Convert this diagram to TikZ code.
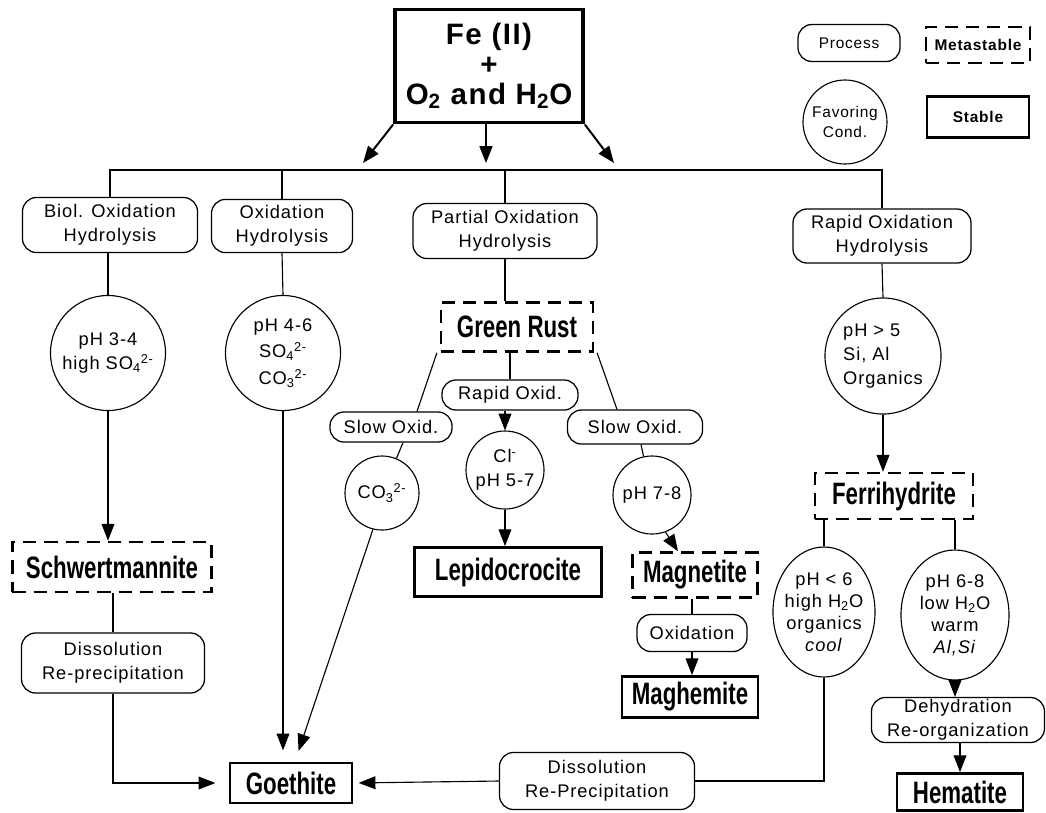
\documentclass[tikz,border=0pt]{standalone}
\usepackage{fontspec}
\setmainfont{Liberation Sans}[LetterSpace=5]
\newfontfamily\mineralfont{Liberation Sans}[FakeStretch=0.72]
\usetikzlibrary{shapes.geometric,arrows.meta,positioning,calc}
\tikzset{
  process/.style={draw,rounded corners=3.5mm,line width=0.9pt,
    align=center,inner sep=1pt,font=\fontsize{13}{17}\selectfont},
  cond/.style={draw,circle,line width=0.8pt,align=center,
    inner sep=0pt,font=\fontsize{13}{17}\selectfont},
  condellipse/.style={draw,ellipse,line width=0.8pt,align=center,
    inner xsep=-1.5mm,inner ysep=0.5mm,font=\fontsize{13}{15.6}\selectfont},
  metastable/.style={draw,dash pattern=on 3.3mm off 2mm,line width=1.8pt,
    inner sep=1pt,font=\mineralfont\bfseries\fontsize{22}{24}\selectfont},
  stable/.style={draw,line width=2pt,inner sep=1pt,
    font=\mineralfont\bfseries\fontsize{22}{24}\selectfont},
  flow/.style={-{Triangle[length=4.2mm,width=3.2mm]},line width=0.8pt},
  link/.style={line width=0.8pt}
}
\begin{document}
\begin{tikzpicture}[x=0.025cm,y=-0.025cm]
  \useasboundingbox (0,0) rectangle (1046,812);
  \node[stable,line width=2.6pt,minimum width=4.7cm,minimum height=2.83cm,
    align=center,font=\bfseries\fontsize{21}{21}\selectfont] (source) at (489,66)
    {Fe (II)\\+\\O\textsubscript{2} and H\textsubscript{2}O};
  \node[process,minimum width=2.55cm,minimum height=0.925cm,
    font=\fontsize{11}{13}\selectfont] (keyprocess) at (849,43) {Process};
  \node[metastable,line width=1.6pt,minimum width=2.6cm,minimum height=0.9cm,
    font=\bfseries\fontsize{11}{13}\selectfont] (keymeta) at (978,45) {Metastable};
  \node[cond,minimum size=2.1cm,font=\fontsize{11}{14}\selectfont] (keycond) at (845,122) {Favoring\\Cond.};
  \node[stable,minimum width=2.55cm,minimum height=1.025cm,
    font=\bfseries\fontsize{11}{13}\selectfont] (keystable) at (978,117) {Stable};
  \node[process,minimum width=4.375cm,minimum height=1.375cm] (biol) at (110,225) {Biol. Oxidation\\Hydrolysis};
  \node[process,minimum width=3.525cm,minimum height=1.33cm] (oxhyd) at (282,226) {Oxidation\\Hydrolysis};
  \node[process,minimum width=4.6cm,minimum height=1.375cm] (partial) at (505,231) {Partial Oxidation\\Hydrolysis};
  \node[process,minimum width=4.45cm,minimum height=1.35cm] (rapid) at (882,236) {Rapid Oxidation\\Hydrolysis};
  \node[cond,minimum size=2.875cm] (phbiol) at (108,353) {pH 3-4\\high SO\textsubscript{4}\textsuperscript{2-}};
  \node[cond,minimum size=2.875cm,font=\fontsize{13}{19}\selectfont] (phox) at (283,353)
    {pH 4-6\\SO\textsubscript{4}\textsuperscript{2-}\\CO\textsubscript{3}\textsuperscript{2-}};
  \node[cond,minimum size=2.9cm,align=left] (phrapid) at (883,356) {pH > 5\\Si, Al\\Organics};
  \node[metastable,minimum width=3.8cm,minimum height=1.225cm] (greenrust) at (517,327) {Green Rust};
  \node[process,minimum width=3.05cm,minimum height=0.75cm] (slowco) at (391,427) {Slow Oxid.};
  \node[process,minimum width=3.4cm,minimum height=0.75cm] (rapidox) at (510,395) {Rapid Oxid.};
  \node[process,minimum width=3.375cm,minimum height=0.85cm] (slowmag) at (635,427) {Slow Oxid.};
  \node[cond,minimum size=1.85cm] (carb) at (382,493) {CO\textsubscript{3}\textsuperscript{2-}};
  \node[cond,minimum size=1.95cm] (chlor) at (505,470) {Cl\textsuperscript{-}\\pH 5-7};
  \node[cond,minimum size=1.95cm] (phmag) at (652,495) {pH 7-8};
  \node[metastable,minimum width=4.975cm,minimum height=1.25cm] (schwert) at (112,567) {Schwertmannite};
  \node[process,minimum width=4.575cm,minimum height=1.5cm] (dissolschw) at (113,663) {Dissolution\\Re-precipitation};
  \node[stable,minimum width=3.05cm,minimum height=1cm] (goethite) at (291,783) {Goethite};
  \node[stable,minimum width=4.675cm,minimum height=1.225cm] (lepido) at (508,572) {Lepidocrocite};
  \node[metastable,minimum width=3.125cm,minimum height=1.125cm] (magnetite) at (695,575) {Magnetite};
  \node[process,minimum width=2.75cm,minimum height=0.925cm] (oxmag) at (692,633) {Oxidation};
  \node[stable,minimum width=3.4cm,minimum height=1.025cm] (maghemite) at (690,697) {Maghemite};
  \node[process,minimum width=4.875cm,minimum height=1.425cm] (dissolferri) at (597,781) {Dissolution\\Re-Precipitation};
  \node[metastable,minimum width=3.95cm,minimum height=1.15cm] (ferri) at (894,496) {Ferrihydrite};
  \node[condellipse,minimum width=2.55cm,minimum height=3.25cm] (phcool) at (824,612)
    {pH < 6\\high H\textsubscript{2}O\\organics\\\textit{cool}};
  \node[condellipse,minimum width=2.7cm,minimum height=3.25cm] (phwarm) at (955,615)
    {pH 6-8\\low H\textsubscript{2}O\\warm\\\textit{Al,Si}};
  \node[process,minimum width=4.325cm,minimum height=1.125cm] (dehyd) at (958,720) {Dehydration\\Re-organization};
  \node[stable,minimum width=3.15cm,minimum height=0.925cm] (hematite) at (960,792) {Hematite};
  \coordinate (bus) at (500,170);
  \coordinate (tipleft) at (363,163);
  \coordinate (tipmid) at (486,163);
  \coordinate (tipright) at (614,163);
  \draw[flow,line width=1.4pt] (source.south west) -- (tipleft);
  \draw[flow,line width=1.4pt] (source.south -| tipmid) -- (tipmid);
  \draw[flow,line width=1.4pt] (source.south east) -- (tipright);
  \draw[link] (biol.north) -- (biol.north |- bus) -- (rapid.north |- bus) -- (rapid.north);
  \draw[link] (oxhyd.north |- bus) -- (oxhyd.north);
  \draw[link] (partial.north |- bus) -- (partial.north);
  \draw[link] (biol.south -| phbiol) -- (phbiol.north);
  \draw[link] (oxhyd.south) -- (phox.north);
  \draw[flow] (phbiol.south) -- (phbiol.south |- schwert.north);
  \draw[link] (schwert.south -| dissolschw) -- (dissolschw.north);
  \draw[flow,shorten >=0.33cm] (dissolschw.south) |- (goethite.west);
  \draw[flow,shorten >=0.28cm] (phox.south) -- (phox.south |- goethite.north);
  \draw[link] (partial.south) -- (partial.south |- greenrust.north);
  \draw[link] ([xshift=-0.07cm]greenrust.south west) -- ([xshift=0.65cm]slowco.north);
  \draw[link] (greenrust.south -| rapidox) -- (rapidox.north);
  \draw[link] ([xshift=0.07cm]greenrust.south east) -- ([xshift=-0.45cm]slowmag.north);
  \draw[link] ([xshift=0.3cm]slowco.south) -- (carb);
  \draw[flow] (rapidox.south -| chlor) -- (chlor.north);
  \draw[link] ([xshift=0.15cm]slowmag.south) -- (phmag);
  \draw[flow,shorten >=0.28cm] (carb.-104) -- ([xshift=0.1cm]goethite.north);
  \draw[flow] (chlor.south) -- (chlor.south |- lepido.north);
  \draw[flow] (phmag.-70) -- ([xshift=-0.425cm]magnetite.north);
  \draw[link] (magnetite.south -| oxmag) -- (oxmag.north);
  \draw[flow] (oxmag.south) -- (oxmag.south |- maghemite.north);
  \draw[link] (rapid.south) -- (phrapid.north);
  \draw[flow] (phrapid.south) -- (phrapid.south |- ferri.north);
  \draw[link] (phcool.north |- ferri.south) -- (phcool.north);
  \draw[link] (phwarm.north |- ferri.south) -- (phwarm.north);
  \draw[link] (phcool.south) |- (dissolferri.east);
  \draw[flow,shorten >=0.13cm] (dissolferri.west) -- (goethite.east);
  \draw[flow] (phwarm.south) -- (phwarm.south |- dehyd.north);
  \draw[flow] (dehyd.south -| hematite) -- (hematite.north);
\end{tikzpicture}
\end{document}
